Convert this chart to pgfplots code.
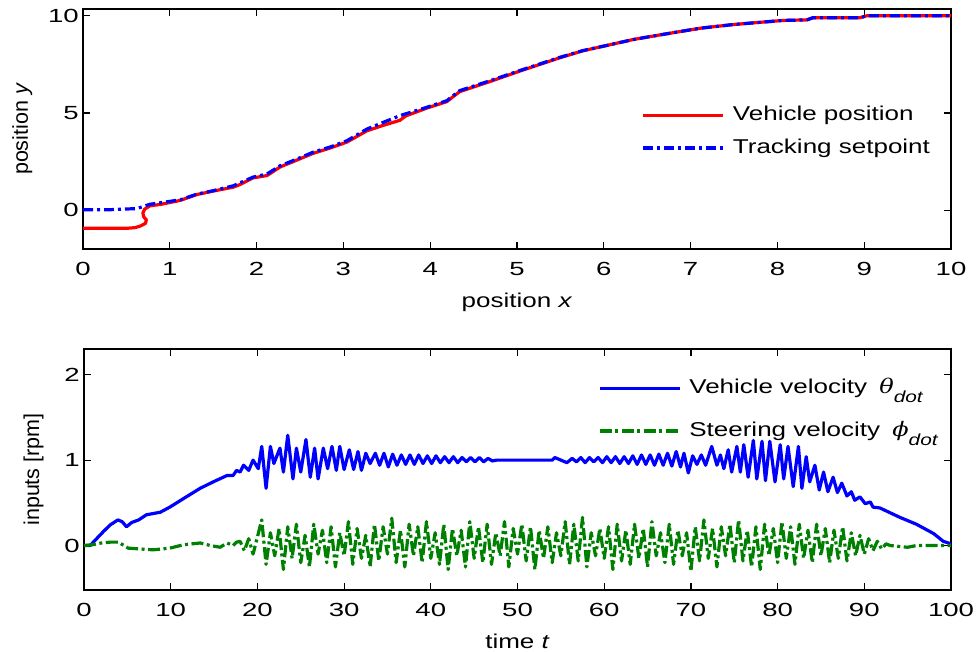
\documentclass[border=0pt]{standalone}
\usepackage{fontspec}
\setmainfont{Liberation Sans}
\newfontfamily\tickfamily{Liberation Sans}[FakeStretch=1.45]
\newfontfamily\txtfamily{Liberation Sans}[FakeStretch=1.3]
\newfontfamily\greekfamily{DejaVu Serif}[FakeStretch=1.2]
\usepackage{pgfplots}
\pgfplotsset{compat=1.18}
\newcommand\tickfont{\tickfamily\fontsize{19}{22}\selectfont}
\newcommand\labfont{\txtfamily\fontsize{20}{24}\selectfont}
\newcommand\ylabfont{\rmfamily\fontsize{21.5}{24}\selectfont}
\newcommand\subdot{\raisebox{-9pt}{\txtfamily\fontsize{16}{16}\selectfont\itshape dot}}
\definecolor{mgreen}{rgb}{0,0.5,0}
\pgfplotsset{
  mystyle/.style={
    scale only axis,
    anchor=south west,
    tick align=inside,
    tick pos=both,
    major tick length=7pt,
    axis line style={line width=1.6pt, black},
    every tick/.append style={line width=1.2pt, black},
    tick label style={font=\tickfont},
    /pgf/number format/assume math mode=true,
    xticklabel style={inner sep=0pt, yshift=-13pt},
    yticklabel style={inner sep=0pt, xshift=-4pt},
    xlabel style={font=\labfont, at={(axis description cs:0.5,0)}, anchor=base, yshift=-58pt, inner sep=0pt},
    legend style={draw=none, fill=none, inner sep=0pt, outer sep=0pt, font=\labfont,
      nodes={inner sep=0pt, text height=15pt, text depth=5pt}},
    legend cell align=left,
    legend image code/.code={\draw[#1] (0pt,0pt) -- (80pt,0pt);},
    /tikz/every odd column/.append style={column sep=8pt},
    every axis plot/.append style={line join=round},
  }
}
\begin{document}
\begin{tikzpicture}
\begin{axis}[mystyle,
  at={(83pt,402pt)}, width=868pt, height=240pt,
  xmin=0, xmax=10, ymin=-2, ymax=10.35,
  xtick={0,1,2,3,4,5,6,7,8,9,10}, ytick={0,5,10},
  xlabel={position \textit{x}},
  ylabel={position \textit{y}},
  ylabel style={font=\ylabfont, at={(axis description cs:-0.0634,0.5)}, anchor=base, inner sep=0pt},
  legend style={at={(rel axis cs:0.6437,0.597)}, anchor=north west, row sep=12.3pt},
]
\addplot[red, line width=3.2pt] coordinates {
(0,-0.93) (0.52,-0.93) (0.6,-0.9) (0.66,-0.82) (0.72,-0.68) (0.73,-0.5) (0.70,-0.35)
(0.69,-0.15) (0.71,0.05) (0.77,0.22) (0.9,0.3) (1.12,0.5) (1.31,0.8) (1.5,0.98)
(1.73,1.18) (1.8,1.3) (1.96,1.66) (2.12,1.78) (2.27,2.22) (2.45,2.55) (2.65,2.92)
(2.85,3.2) (3.04,3.5) (3.27,4.08) (3.45,4.35) (3.65,4.62) (3.72,4.85) (3.96,5.25)
(4.19,5.58) (4.34,6.1) (4.69,6.62) (5.03,7.15) (5.5,7.85) (5.76,8.2) (6.03,8.47)
(6.34,8.78) (6.65,9.02) (7.11,9.36) (7.49,9.55) (8.06,9.76) (8.34,9.79) (8.41,9.9)
(8.95,9.9) (9.03,10.0) (10,10.0)
};
\addlegendentry{Vehicle position}
\addplot[blue, line width=3.2pt, dash pattern=on 10pt off 4pt on 3pt off 4pt] coordinates {
(0,0.02) (0.3,0.02) (0.62,0.08) (0.77,0.3) (1.12,0.53) (1.31,0.82) (1.5,1.0)
(1.73,1.25) (1.96,1.70) (2.12,1.86) (2.27,2.28) (2.45,2.6) (2.65,2.98) (2.85,3.25)
(3.04,3.57) (3.27,4.17) (3.45,4.5) (3.65,4.86) (3.96,5.29) (4.19,5.63) (4.34,6.15)
(4.69,6.66) (5.03,7.18) (5.5,7.87) (5.76,8.21) (6.03,8.47) (6.34,8.78) (6.65,9.02)
(7.11,9.36) (7.49,9.55) (8.06,9.76) (8.34,9.79) (8.41,9.9) (8.95,9.9) (9.03,10.0) (10,10.0)
};
\addlegendentry{Tracking setpoint}
\end{axis}

\begin{axis}[mystyle,
  at={(84pt,61pt)}, width=867pt, height=241pt,
  xmin=0, xmax=100, ymin=-0.52, ymax=2.3,
  xtick={0,10,20,30,40,50,60,70,80,90,100}, ytick={0,1,2},
  xlabel={time \textit{t}},
  ylabel={inputs [rpm]},
  ylabel style={font=\ylabfont, at={(axis description cs:-0.0519,0.5)}, anchor=base, inner sep=0pt},
  legend style={at={(rel axis cs:0.593,0.878)}, anchor=north west, row sep=22.6pt},
]
\addplot[blue, line width=3.2pt] coordinates {
(0,0) (0.7,0) (2.2,0.16) (3.0,0.24) (3.9,0.30) (4.4,0.28) (4.9,0.22) (5.5,0.27) (6.3,0.30)
(7.2,0.36) (8.8,0.39) (9.9,0.45) (11.8,0.57) (13.4,0.67) (14.9,0.745) (16.5,0.82) (17.2,0.82)
(17.6,0.88) (18.0,0.86) (18.4,0.94) (19.0,0.88) (19.5,1.0) (20.1,0.9) (20.5,1.16) (21.0,0.67)
(21.5,1.16) (21.9,0.96) (22.6,1.14) (23.0,0.86) (23.5,1.29) (24.1,0.78) (24.5,1.14) (25.0,0.86)
(25.6,1.24) (26.1,0.80) (26.6,1.14) (27.0,0.78) (27.6,1.14) (28.1,0.90) (28.6,1.16) (29.1,0.88)
(29.5,1.16) (30.0,0.89) (30.6,1.12) (31.1,0.89) (31.6,1.10) (32.0,0.88) (32.5,1.08) (33.0,0.96)
(33.6,1.08) (34.1,0.94) (34.6,1.08) (35.1,0.92) (35.6,1.07) (36.1,0.94) (36.6,1.06) (37.1,0.95)
(37.6,1.06) (38.1,0.95) (38.6,1.06) (39.1,0.96) (39.6,1.05) (40.1,0.96) (40.6,1.05) (41.1,0.97)
(41.6,1.04) (42.1,0.97) (42.6,1.04) (43.1,0.97) (43.6,1.03) (44.1,0.98) (44.6,1.03) (45.1,0.98)
(45.6,1.03) (46.1,0.98) (46.6,1.02) (47.1,0.99) (47.6,1.0) (54.0,1.0) (54.3,1.03) (55.0,1.0)
(55.7,0.97) (56.3,1.02) (56.8,0.98) (57.3,1.03) (57.8,0.97) (58.3,1.03) (58.8,0.98) (59.3,1.03)
(59.8,0.97) (60.3,1.04) (60.8,0.97) (61.3,1.04) (61.8,0.96) (62.3,1.04) (62.8,0.96) (63.3,1.05)
(63.8,0.95) (64.3,1.06) (64.8,0.95) (65.3,1.06) (65.8,0.94) (66.3,1.07) (66.8,0.94) (67.3,1.08)
(67.8,0.93) (68.3,1.10) (68.8,0.92) (69.2,1.08) (69.7,0.85) (70.2,1.05) (70.7,0.95) (71.2,1.06)
(71.7,0.94) (72.4,1.16) (73.0,0.94) (73.4,1.06) (73.8,0.9) (74.3,1.12) (74.7,0.86) (75.3,1.16)
(75.7,0.86) (76.1,1.18) (76.6,0.80) (77.2,1.23) (77.6,0.78) (78.2,1.22) (78.6,0.76) (79.1,1.22)
(79.7,0.745) (80.3,1.18) (80.7,0.78) (81.2,1.16) (81.8,0.69) (82.4,1.16) (82.8,0.67) (83.3,1.04)
(83.7,0.745) (84.3,0.94) (84.8,0.65) (85.3,0.86) (85.8,0.63) (86.4,0.80) (86.9,0.62) (87.4,0.73)
(88.0,0.58) (88.5,0.63) (88.9,0.53) (89.5,0.57) (90.1,0.49) (90.7,0.51) (91.0,0.45) (91.8,0.44)
(94.1,0.33) (96.0,0.25) (98.0,0.14) (99.1,0.05) (100,0.02)
};
\addlegendentry{Vehicle velocity \hspace{5pt}{\greekfamily\itshape θ}\subdot}
\addplot[mgreen, line width=3.2pt, dash pattern=on 12pt off 3.5pt on 3pt off 3.5pt] coordinates {
(0,0) (1,0.01) (2,0.03) (3,0.04) (3.96,0.04) (5.1,-0.03) (6.5,-0.04) (8,-0.05) (9.9,-0.03)
(11.5,0.01) (13.4,0.03) (14.6,0.0) (15.7,-0.02) (16.5,0.03) (17.2,0.0) (17.6,0.04)
(18.0,0.05) (18.5,-0.06) (19.0,0.08) (19.5,-0.10) (20.0,0.10) (20.5,0.30) (21.0,-0.22)
(21.5,0.15) (22.0,-0.12) (22.5,0.20) (23.0,-0.28) (23.5,0.22) (24.0,-0.15) (24.5,0.25)
(25.0,-0.20) (25.5,0.12) (26.0,-0.25) (26.5,0.25) (27.0,-0.10) (27.5,0.18) (28.0,-0.20)
(28.5,0.22) (29.0,-0.25) (29.5,0.15) (30.0,-0.12) (30.5,0.28) (31.0,-0.22) (31.5,0.20)
(32.0,-0.15) (32.5,0.12) (33.0,-0.25) (33.5,0.25) (34.0,-0.18) (34.5,0.22) (35.0,-0.10)
(35.5,0.32) (36.0,-0.20) (36.5,0.18) (37.0,-0.25) (37.5,0.25) (38.0,-0.12) (38.5,0.22)
(39.0,-0.20) (39.5,0.28) (40.0,-0.15) (40.5,0.15) (41.0,-0.22) (41.5,0.25) (42.0,-0.28)
(42.5,0.20) (43.0,-0.12) (43.5,0.18) (44.0,-0.25) (44.5,0.28) (45.0,-0.15) (45.5,0.22)
(46.0,-0.20) (46.5,0.25) (47.0,-0.22) (47.5,0.15) (48.0,-0.12) (48.5,0.28) (49.0,-0.25)
(49.5,0.20) (50.0,-0.10) (50.5,0.25) (51.0,-0.18) (51.5,0.22) (52.0,-0.28) (52.5,0.18)
(53.0,-0.15) (53.5,0.22) (54.0,-0.20) (54.5,0.15) (55.0,-0.12) (55.5,0.28) (56.0,-0.22)
(56.5,0.25) (57.0,-0.18) (57.5,0.33) (58.0,-0.25) (58.5,0.15) (59.0,-0.12) (59.5,0.20)
(60.0,-0.15) (60.5,0.22) (61.0,-0.28) (61.5,0.25) (62.0,-0.18) (62.5,0.18) (63.0,-0.22)
(63.5,0.25) (64.0,-0.15) (64.5,0.20) (65.0,-0.25) (65.5,0.28) (66.0,-0.12) (66.5,0.15)
(67.0,-0.20) (67.5,0.25) (68.0,-0.22) (68.5,0.18) (69.0,-0.12) (69.5,0.15) (70.0,-0.30)
(70.5,0.22) (71.0,-0.18) (71.5,0.30) (72.0,-0.15) (72.5,0.20) (73.0,-0.25) (73.5,0.22)
(74.0,-0.12) (74.5,0.25) (75.0,-0.20) (75.5,0.30) (76.0,-0.18) (76.5,0.18) (77.0,-0.25)
(77.5,0.22) (78.0,-0.28) (78.5,0.25) (79.0,-0.12) (79.5,0.20) (80.0,-0.20) (80.5,0.28)
(81.0,-0.15) (81.5,0.22) (82.0,-0.22) (82.5,0.25) (83.0,-0.15) (83.5,0.18) (84.0,-0.20)
(84.5,0.25) (85.0,-0.12) (85.5,0.20) (86.0,-0.20) (86.5,0.18) (87.0,-0.15) (87.5,0.22)
(88.0,-0.18) (88.5,0.15) (89.0,-0.12) (89.5,0.12) (90.0,-0.10) (90.5,0.08) (91.0,-0.06)
(91.5,0.05) (92.0,-0.04) (92.5,0.02) (93.0,0) (94,-0.01) (95,-0.02) (96,0) (97,0) (100,0)
};
\addlegendentry{Steering velocity \hspace{5pt}{\greekfamily\itshape ϕ}\subdot}
\end{axis}
\pgfresetboundingbox
\path (0,0) rectangle (976pt,651pt);
\end{tikzpicture}
\end{document}
